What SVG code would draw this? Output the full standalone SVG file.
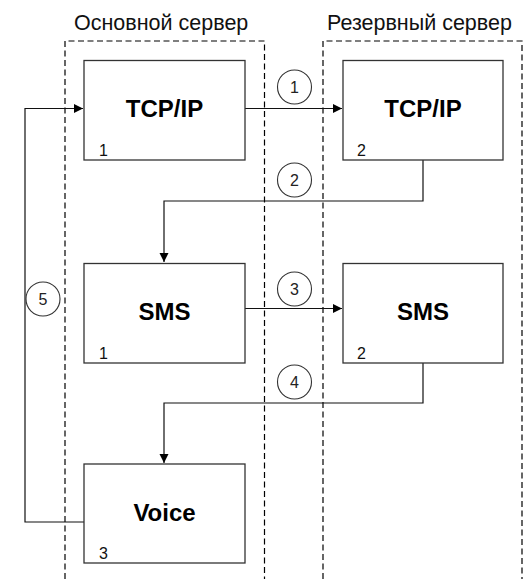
<svg xmlns="http://www.w3.org/2000/svg" width="527" height="579" viewBox="0 0 527 579">
<style>
.bg{fill:#fff}
.cont{fill:none;stroke:#000;stroke-width:1.2;stroke-dasharray:6,3.5}
.box{fill:#fff;stroke:#333;stroke-width:1.3}
.title{font-family:"Liberation Sans",Arial,sans-serif;font-size:21.5px;fill:#111}
.name{font-family:"Liberation Sans",Arial,sans-serif;font-size:24px;font-weight:bold;fill:#000;text-anchor:middle}
.num{font-family:"Liberation Sans",Arial,sans-serif;font-size:16px;fill:#111}
.circ{fill:#fff;stroke:#333;stroke-width:1.1}
.cnum{font-family:"Liberation Sans",Arial,sans-serif;font-size:16px;fill:#222;text-anchor:middle}
.line{fill:none;stroke:#111;stroke-width:1.2}
</style>
<defs>
<marker id="arr" markerWidth="10" markerHeight="10" refX="9" refY="4.5" orient="auto" markerUnits="userSpaceOnUse">
<path d="M0,0 L9,4.5 L0,9 Z" fill="#000"/>
</marker>
</defs>
<rect class="bg" x="0" y="0" width="527" height="579"/>
<g id="containers">
<text class="title" x="74" y="30">Основной сервер</text>
<text class="title" x="327" y="30">Резервный сервер</text>
<path class="cont" d="M65,579 V41 H264.5 V579"/>
<path class="cont" d="M323,579 V41 H522 V579"/>
</g>
<g id="connectors">
<path class="line" d="M245,108.5 H342" marker-end="url(#arr)"/>
<path class="line" d="M423,160 V201 H164 V262" marker-end="url(#arr)"/>
<path class="line" d="M245,308.5 H342" marker-end="url(#arr)"/>
<path class="line" d="M423,363 V403 H164 V463" marker-end="url(#arr)"/>
<path class="line" d="M84,522 H25 V108.5 H83" marker-end="url(#arr)"/>
</g>
<g id="labels">
<circle class="circ" cx="294.5" cy="87" r="17"/><text class="cnum" x="294.5" y="93">1</text>
<circle class="circ" cx="294.5" cy="180" r="17"/><text class="cnum" x="294.5" y="186">2</text>
<circle class="circ" cx="294.5" cy="289" r="17"/><text class="cnum" x="294.5" y="295">3</text>
<circle class="circ" cx="294.5" cy="382" r="17"/><text class="cnum" x="294.5" y="388">4</text>
<circle class="circ" cx="43" cy="299" r="17"/><text class="cnum" x="43" y="305">5</text>
</g>
<g id="tcp1">
<rect class="box" x="84" y="60.5" width="161" height="99.5"/>
<text class="name" x="164.5" y="117">TCP/IP</text>
<text class="num" x="99" y="156">1</text>
</g>
<g id="tcp2">
<rect class="box" x="343" y="60.5" width="160" height="99.5"/>
<text class="name" x="423" y="117">TCP/IP</text>
<text class="num" x="357" y="156">2</text>
</g>
<g id="sms1">
<rect class="box" x="84" y="263.5" width="161" height="99.5"/>
<text class="name" x="164.5" y="320">SMS</text>
<text class="num" x="99" y="359">1</text>
</g>
<g id="sms2">
<rect class="box" x="343" y="263.5" width="160" height="99.5"/>
<text class="name" x="423" y="320">SMS</text>
<text class="num" x="357" y="359">2</text>
</g>
<g id="voice">
<rect class="box" x="84" y="464" width="161" height="99"/>
<text class="name" x="164.5" y="521">Voice</text>
<text class="num" x="99" y="559">3</text>
</g>
</svg>
